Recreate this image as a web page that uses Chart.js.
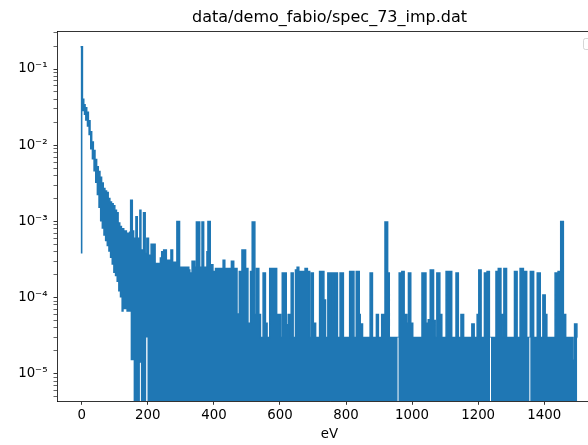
<!DOCTYPE html>
<html>
<head>
<meta charset="utf-8">
<script src="https://cdn.jsdelivr.net/npm/chart.js@4.4.1/dist/chart.umd.min.js"></script>
<style>
  html, body { margin: 0; padding: 0; background: #fff; overflow: hidden; }
  #wrap { width: 640px; height: 445px; }
</style>
</head>
<body>
<div id="wrap"><canvas id="chart" width="640" height="445"></canvas></div>
<script>
// upper envelope of the trace (value holds from energy[i] to energy[i+1])
var energy = [
    -3.5, 2, 6, 10, 15, 20, 25, 30, 35, 40,
    45, 50, 55, 60, 65, 70, 75, 80, 85, 90,
    95, 100, 105, 110, 115, 120, 127, 135, 145, 148,
    153, 157, 164, 168, 176, 179, 187, 192, 197, 202,
    210, 222, 238, 242, 248, 256, 270, 275, 288, 296,
    324, 327, 334, 342, 347, 357, 364, 369, 379, 382,
    389, 397, 405, 428, 433, 453, 460, 470, 477, 485,
    496, 503, 511, 516, 524, 529, 536, 541, 549, 556,
    561, 569, 590, 602, 607, 619, 625, 632, 634, 640,
    647, 652, 657, 676, 683, 690, 695, 701, 708, 720,
    733, 738, 745, 759, 763, 774, 782, 792, 811, 824,
    831, 840, 843, 850, 873, 880, 892, 898, 908, 918,
    926, 931, 961, 969, 976, 984, 989, 996, 1002, 1030,
    1042, 1049, 1055, 1065, 1070, 1075, 1084, 1090, 1103, 1120,
    1133, 1140, 1148, 1156, 1181, 1188, 1197, 1202, 1209, 1219,
    1227, 1234, 1254, 1261, 1269, 1275, 1278, 1286, 1310, 1318,
    1327, 1337, 1340, 1347, 1358, 1368, 1379, 1388, 1396, 1403,
    1408, 1433, 1442, 1450, 1458, 1465, 1487, 1492, 1499, 1500
];
var upper = [
    0.196, 0.040, 0.034, 0.031, 0.027, 0.021, 0.015, 0.011, 0.0085, 0.0065,
    0.0052, 0.0045, 0.0038, 0.0032, 0.0027, 0.0025, 0.0024, 0.0020, 0.0018, 0.0017,
    0.0016, 0.0014, 0.0013, 9.5e-4, 8.6e-4, 8.0e-4, 7.5e-4, 7.0e-4, 7.2e-4, 1.9e-3,
    7.5e-4, 6.0e-4, 1.15e-3, 6.0e-4, 1.4e-3, 4.2e-4, 1.3e-3, 3.8e-4, 6.0e-4, 3.6e-4,
    5.0e-4, 2.8e-4, 3.3e-4, 4.0e-4, 4.2e-4, 3.1e-4, 4.2e-4, 2.9e-4, 1.0e-3, 2.5e-4,
    2.3e-4, 2.1e-4, 3.0e-4, 2.5e-4, 9.8e-4, 2.5e-4, 9.8e-4, 2.5e-4, 4.0e-4, 1.0e-3,
    2.7e-4, 2.2e-4, 2.4e-4, 3.1e-4, 2.4e-4, 3.0e-4, 2.4e-4, 6.1e-5, 2.2e-4, 4.2e-4,
    2.4e-4, 4.6e-5, 2.2e-4, 9.8e-4, 6.0e-5, 2.4e-4, 6.0e-5, 3.0e-5, 2.1e-4, 4.6e-5,
    3.0e-5, 2.4e-4, 6.0e-5, 3.0e-5, 2.1e-4, 4.4e-5, 6.0e-5, 3.0e-5, 2.1e-4, 3.0e-5,
    2.3e-4, 2.5e-4, 2.2e-4, 2.4e-4, 2.2e-4, 3.0e-5, 2.1e-4, 4.6e-5, 3.0e-5, 2.2e-4,
    9.3e-5, 3.0e-5, 2.1e-4, 4.6e-5, 2.1e-4, 3.0e-5, 2.1e-4, 3.0e-5, 2.2e-4, 3.0e-5,
    2.2e-4, 6.0e-5, 4.5e-5, 3.0e-5, 2.1e-4, 3.0e-5, 6.0e-5, 3.0e-5, 6.0e-5, 9.8e-4,
    2.1e-4, 3.0e-5, 2.1e-4, 2.2e-4, 6.0e-5, 4.6e-5, 2.1e-4, 4.6e-5, 3.0e-5, 2.1e-4,
    4.6e-5, 5.1e-5, 2.3e-4, 5.0e-5, 3.0e-5, 2.1e-4, 6.0e-5, 3.0e-5, 2.2e-4, 3.0e-5,
    2.1e-4, 3.0e-5, 6.0e-5, 3.0e-5, 4.5e-5, 3.0e-5, 6.0e-5, 2.3e-4, 3.0e-5, 2.1e-4,
    2.2e-4, 3.0e-5, 2.2e-4, 2.4e-4, 6.0e-5, 3.0e-5, 2.4e-4, 3.0e-5, 2.2e-4, 3.0e-5,
    2.4e-4, 3.0e-5, 2.2e-4, 3.0e-5, 2.2e-4, 3.0e-5, 2.1e-4, 3.0e-5, 1.08e-4, 6.0e-5,
    3.0e-5, 2.1e-4, 2.2e-4, 1.0e-3, 6.0e-5, 3.0e-5, 1.5e-5, 4.5e-5, 3.0e-5, 3.0e-5
];

// lower envelope of the trace (0 = the trace drops to zero there)
var floorEnergy = [
    -6, 2, 6, 10, 15, 20, 25, 30, 35, 40,
    45, 50, 55, 60, 65, 70, 75, 80, 85, 90,
    95, 100, 105, 110, 115, 120, 127, 135, 145, 148,
    153, 157, 176, 179, 195, 199, 956, 959, 1236, 1239,
    1355, 1358, 1500
];
var floorLevel = [
    3.8e-4, 0.028, 0.025, 0.021, 0.0175, 0.0135, 0.0088, 0.0065, 0.0045, 0.0032,
    0.0022, 0.0015, 0.0010, 8.0e-4, 6.5e-4, 5.5e-4, 4.7e-4, 4.0e-4, 3.3e-4, 2.7e-4,
    2.1e-4, 1.9e-4, 1.6e-4, 1.2e-4, 1.0e-4, 6.5e-5, 7.0e-5, 6.5e-5, 6.5e-5, 1.5e-5,
    1.5e-5, 0, 1.4e-5, 0, 3.0e-5, 0, 3.0e-5, 0, 3.0e-5, 0,
    3.0e-5, 0, 0
];

var xTicks = [0, 200, 400, 600, 800, 1000, 1200, 1400];
var yTicks = [1e-5, 1e-4, 1e-3, 1e-2, 1e-1];
var yTickLabels = ['10⁻⁵', '10⁻⁴', '10⁻³', '10⁻²', '10⁻¹'];
var xMin = -75, xMax = 1575;
var yMin = 4.35e-6, yMax = 0.3155;

var blue = '#1f77b4';

// major + minor ticks of the log axis
var yAllTicks = [];
for (var d = -6; d <= -1; d++) {
    for (var k = 1; k <= 9; k++) {
        var v = k * Math.pow(10, d);
        if (v >= yMin && v <= yMax) {
            yAllTicks.push({ value: v, major: k === 1 });
        }
    }
}

function yLabel(value) {
    for (var i = 0; i < yTicks.length; i++) {
        if (Math.abs(Math.log10(value) - Math.log10(yTicks[i])) < 1e-6) {
            return yTickLabels[i];
        }
    }
    return '';
}

var upperData = energy.map(function (e, i) {
    return { x: e, y: upper[i] };
});
var floorData = floorEnergy.map(function (e, i) {
    return { x: e, y: floorLevel[i] > 0 ? floorLevel[i] : yMin / 100 };
});

// matplotlib draws an empty legend frame in the upper right corner
var emptyLegend = {
    id: 'emptyLegend',
    afterDraw: function (chart) {
        var a = chart.chartArea;
        var ctx = chart.ctx;
        ctx.save();
        ctx.fillStyle = 'rgba(255,255,255,0.8)';
        ctx.strokeStyle = 'rgba(204,204,204,0.8)';
        ctx.lineWidth = 1;
        ctx.beginPath();
        ctx.roundRect(a.right - 18.5, a.top + 7.5, 11, 11, 2);
        ctx.fill();
        ctx.stroke();
        ctx.restore();
    }
};

Chart.defaults.font.family = 'DejaVu Sans';
Chart.defaults.color = '#000';

var ctx = document.getElementById('chart');

var chart = new Chart(ctx, {
    type: 'line',
    data: {
        datasets: [
            {
                // below the lower envelope the plot is empty
                data: floorData,
                stepped: true,
                fill: 'start',
                backgroundColor: '#ffffff',
                borderWidth: 0,
                pointRadius: 0
            },
            {
                data: upperData,
                stepped: true,
                fill: 'start',
                backgroundColor: blue,
                borderColor: blue,
                borderWidth: 1.5,
                pointRadius: 0
            }
        ]
    },
    options: {
        responsive: false,
        animation: false,
        devicePixelRatio: 1,
        layout: {
            padding: { left: 0, right: 38, top: 0, bottom: 0 }
        },
        plugins: {
            legend: { display: false },
            tooltip: { enabled: false },
            title: {
                display: true,
                text: 'data/demo_fabio/spec_73_imp.dat',
                fullSize: false,
                color: '#000',
                font: { size: 16, weight: 'normal' },
                padding: { top: 8.2, bottom: 3.6 }
            }
        },
        scales: {
            x: {
                type: 'linear',
                min: xMin,
                max: xMax,
                afterFit: function (s) { s.height = 43.7; },
                afterBuildTicks: function (s) {
                    s.ticks = xTicks.map(function (v) { return { value: v }; });
                },
                ticks: {
                    autoSkip: false,
                    maxRotation: 0,
                    padding: 2.3,
                    color: '#000',
                    font: { size: 13.33 },
                    callback: function (v) { return String(v); }
                },
                grid: {
                    drawOnChartArea: false,
                    tickLength: 3.5,
                    tickColor: '#000',
                    tickWidth: 0.8
                },
                border: { color: '#000', width: 0.8, z: 1 },
                title: {
                    display: true,
                    text: 'eV',
                    color: '#000',
                    font: { size: 13.33 },
                    padding: { top: 0, bottom: 2 }
                }
            },
            x2: {
                type: 'linear',
                position: 'top',
                min: xMin,
                max: xMax,
                afterFit: function (s) { s.height = 0; },
                ticks: { display: false },
                grid: { drawOnChartArea: false, drawTicks: false },
                border: { color: '#000', width: 0.8, z: 1 }
            },
            y: {
                type: 'logarithmic',
                min: yMin,
                max: yMax,
                afterFit: function (s) { s.width = 57; },
                afterBuildTicks: function (s) {
                    s.ticks = yAllTicks.map(function (t) { return { value: t.value, major: t.major }; });
                },
                ticks: {
                    autoSkip: false,
                    padding: 6,
                    color: '#000',
                    font: { size: 13.33 },
                    callback: function (v) { return yLabel(v); }
                },
                grid: {
                    drawOnChartArea: false,
                    tickLength: 3.5,
                    tickColor: '#000',
                    tickWidth: function (c) { return c.tick && c.tick.major ? 0.8 : 0.6; }
                },
                border: { color: '#000', width: 0.8, z: 1 }
            }
        }
    },
    plugins: [emptyLegend]
});
</script>
</body>
</html>
